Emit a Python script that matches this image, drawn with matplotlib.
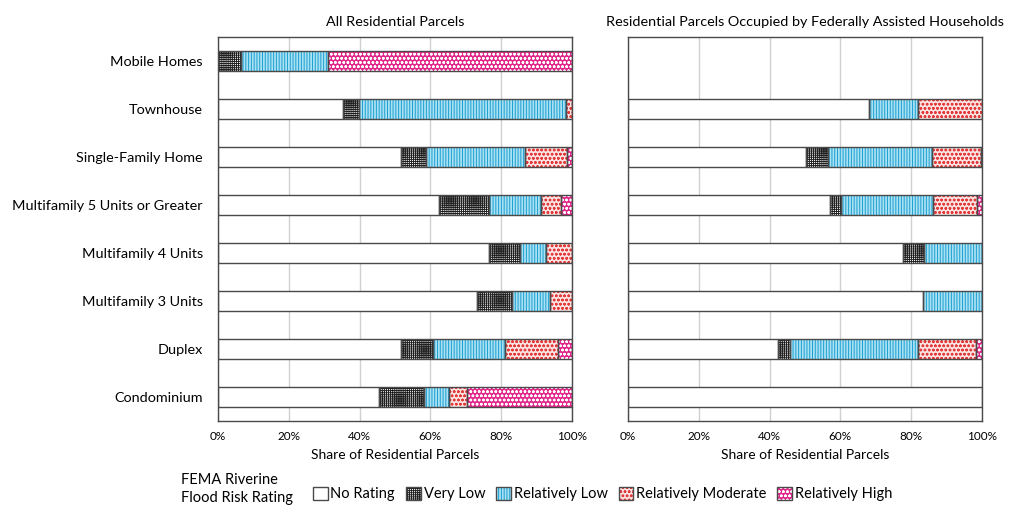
import matplotlib
matplotlib.use("Agg")
import matplotlib.pyplot as plt
from matplotlib.patches import Patch
import numpy as np

# Building types, top to bottom
categories = [
    "Mobile Homes",
    "Townhouse",
    "Single-Family Home",
    "Multifamily 5 Units or Greater",
    "Multifamily 4 Units",
    "Multifamily 3 Units",
    "Duplex",
    "Condominium",
]

ratings = ["No Rating", "Very Low", "Relatively Low", "Relatively Moderate", "Relatively High"]

# Shares (%) for all residential parcels, one list per rating
all_no_rating = [0.0, 35.2, 51.7, 62.5, 76.5, 73.3, 51.7, 45.4]
all_very_low = [6.4, 4.7, 7.1, 14.1, 8.9, 9.7, 9.1, 12.8]
all_rel_low = [24.8, 58.4, 28.0, 14.7, 7.2, 10.8, 20.4, 7.1]
all_rel_moderate = [0.0, 1.7, 11.7, 5.5, 7.4, 6.2, 14.8, 4.9]
all_rel_high = [68.8, 0.0, 1.5, 3.2, 0.0, 0.0, 4.0, 29.8]

# Shares (%) for parcels occupied by federally assisted households
fed_no_rating = [0.0, 68.1, 50.3, 57.2, 77.7, 83.2, 42.3, 100.0]
fed_very_low = [0.0, 0.0, 6.2, 2.9, 5.8, 0.0, 3.5, 0.0]
fed_rel_low = [0.0, 13.7, 29.3, 26.1, 16.5, 16.8, 36.0, 0.0]
fed_rel_moderate = [0.0, 18.2, 14.0, 12.5, 0.0, 0.0, 16.4, 0.0]
fed_rel_high = [0.0, 0.0, 0.2, 1.3, 0.0, 0.0, 1.8, 0.0]

# (face colour, hatch, hatch colour) per rating
styles = [
    ("white", "", "white"),
    ("white", "++++++++", "#202020"),
    ("#a9e0f2", "||||||", "#1b9fd3"),
    ("#fbe3e3", "oooo", "#e23b3b"),
    ("#e2278a", "oooo", "white"),
]

OUTLINE = "#4a4a4a"
plt.rcParams["font.family"] = ["Lato", "DejaVu Sans"]
plt.rcParams["hatch.linewidth"] = 0.7


def draw_panel(ax, series, title, show_labels):
    y = np.arange(len(categories))
    left = np.zeros(len(categories))
    for vals, (face, hatch, hcolor) in zip(series, styles):
        vals = np.array(vals)
        mask = vals > 0
        # hatch layer (hatch takes the edge colour), then a plain outline on top
        ax.barh(y[mask], vals[mask], left=left[mask], height=0.42,
                color=face, hatch=hatch, edgecolor=hcolor, linewidth=0, zorder=2)
        ax.barh(y[mask], vals[mask], left=left[mask], height=0.42,
                fill=False, edgecolor=OUTLINE, linewidth=1.0, zorder=3)
        left += vals

    ax.set_xlim(0, 100)
    ax.set_ylim(len(categories) - 0.5, -0.5)
    ax.set_xticks([0, 20, 40, 60, 80, 100])
    ax.set_xticklabels([f"{t}%" for t in range(0, 101, 20)], fontsize=8.5)
    ax.xaxis.grid(True, color="#d0d0d0", linewidth=1.0, zorder=0)
    ax.set_axisbelow(True)
    ax.tick_params(length=0, pad=7)
    ax.set_yticks(np.arange(len(categories)))
    if show_labels:
        ax.set_yticklabels(categories, fontsize=10.4)
        ax.tick_params(axis="y", pad=11)
    else:
        ax.set_yticklabels([])
    for s in ax.spines.values():
        s.set_color(OUTLINE)
        s.set_linewidth(1.0)
    ax.set_title(title, fontsize=10.4, pad=8)
    ax.set_xlabel("Share of Residential Parcels", fontsize=10, labelpad=5)


def main():
    fig = plt.figure(figsize=(10.09, 5.07), dpi=100)
    ax1 = fig.add_axes([218 / 1009, 86 / 507, 354 / 1009, 384 / 507])
    ax2 = fig.add_axes([628 / 1009, 86 / 507, 354 / 1009, 384 / 507])

    draw_panel(ax1, [all_no_rating, all_very_low, all_rel_low, all_rel_moderate, all_rel_high],
               "All Residential Parcels", True)
    draw_panel(ax2, [fed_no_rating, fed_very_low, fed_rel_low, fed_rel_moderate, fed_rel_high],
               "Residential Parcels Occupied by Federally Assisted Households", False)

    # Legend: hatched square with a dark outline laid over it
    handles = []
    for face, hatch, hcolor in styles:
        h1 = Patch(facecolor=face, hatch=hatch, edgecolor=hcolor, linewidth=0)
        h2 = Patch(fill=False, edgecolor=OUTLINE, linewidth=1.0)
        handles.append((h1, h2))
    fig.legend(handles, ratings, loc="center left", bbox_to_anchor=(313 / 1009, 1 - 494 / 507),
               ncol=5, frameon=False, fontsize=10.5, handlelength=1.0, handleheight=1.0,
               handletextpad=0.2, columnspacing=0.75, borderpad=0, borderaxespad=0)
    fig.text(181 / 1009, 1 - 489 / 507, "FEMA Riverine\nFlood Risk Rating",
             fontsize=10.5, va="center", ha="left", linespacing=1.35)

    fig.savefig("out.png", dpi=100)


if __name__ == "__main__":
    main()
